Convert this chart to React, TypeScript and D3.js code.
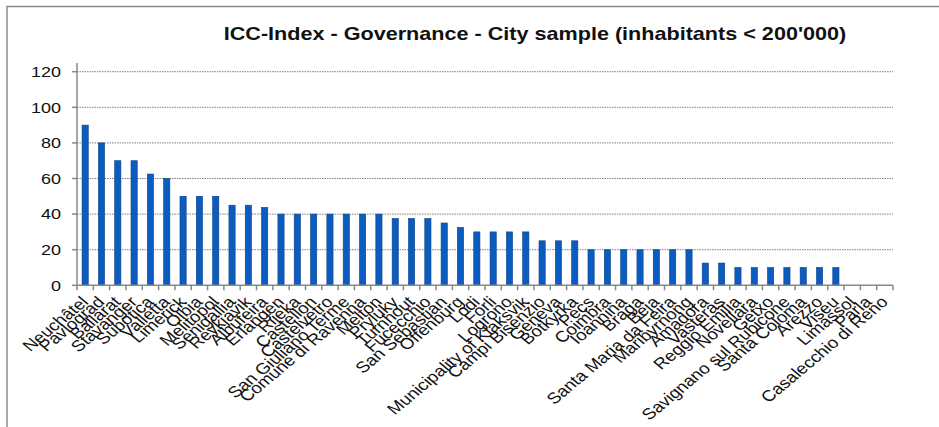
import React, { useEffect, useRef } from 'react';
import * as d3 from 'd3';

const cities = [
  'Neuchâtel', 'Pavlograd', 'Ballarat', 'Stavanger', 'Subotica', 'Valletta', 'Limerick', 'Olbia',
  'Melitopol', 'Senigallia', 'Reykjavik', 'Albufeira', 'Erlangen', 'Rijeka', 'Castellon', 'Castelvetro',
  'San Giuliano Terme', 'Comune di Ravenna', 'Melton', 'Pryluky', 'Turnhout', 'Fucecchio', 'San Sebastian',
  'Offenburg', 'Lodi', 'Forli', 'Logrono', 'Municipality of Klaksvik', 'Campi Bisenzio', 'Geneva',
  'Botkyrka', 'Pecs', 'Coimbra', 'Ioannina', 'Braga', 'Beja', 'Santa Maria da Feira', 'Maribyrnong',
  'Amadora', 'Vasteras', 'Reggio Emilia', 'Novellara', 'Getxo', 'Savignano sul Rubicone', 'Santa Coloma',
  'Arezzo', 'Viseu', 'Limassol', 'Parla', 'Casalecchio di Reno',
];
const scores = [
  90, 80, 70, 70, 62.5, 60, 50, 50, 50, 45, 45, 43.75, 40, 40, 40, 40, 40, 40, 40, 37.5, 37.5, 37.5, 35,
  32.5, 30, 30, 30, 30, 25, 25, 25, 20, 20, 20, 20, 20, 20, 20, 12.5, 12.5, 10, 10, 10, 10, 10, 10, 10,
  0, 0, 0,
];
const yTicks = [0, 20, 40, 60, 80, 100, 120];
const title = "ICC-Index - Governance - City sample (inhabitants < 200'000)";

export default function App() {
  const ref = useRef<SVGSVGElement>(null);

  useEffect(() => {
    const W = 939, H = 427;
    const left = 77, right = 893, top = 71.7, bottom = 285.3;
    const sx = 1.2; // the source picture is stretched sideways

    const svg = d3.select(ref.current);
    svg.selectAll('*').remove();
    svg.attr('width', W).attr('height', H);

    svg.append('rect').attr('width', W).attr('height', H).attr('fill', '#fff');
    // frame, only top and left edges show
    svg.append('path').attr('d', `M7,${H} V6.5 H${W}`)
      .attr('fill', 'none').attr('stroke', '#8a8a8a').attr('stroke-width', 1.5);

    const x = d3.scaleBand<string>().domain(cities).range([left, right]).paddingInner(0.62).paddingOuter(0.31);
    const xb = d3.scaleBand<string>().domain(cities).range([left, right]);
    const y = d3.scaleLinear().domain([0, 120]).range([bottom, top]);

    // title
    svg.append('text')
      .attr('transform', `translate(535,40) scale(${sx},1)`)
      .attr('text-anchor', 'middle')
      .attr('font-family', 'Liberation Sans, Arial, sans-serif')
      .attr('font-weight', 'bold')
      .attr('font-size', 18)
      .attr('fill', '#111')
      .text(title);

    // gridlines
    svg.append('g').selectAll('line')
      .data(yTicks.filter(d => d > 0))
      .enter().append('line')
      .attr('x1', left).attr('x2', right)
      .attr('y1', d => y(d)).attr('y2', d => y(d))
      .attr('stroke', '#808080').attr('stroke-width', 1).attr('stroke-dasharray', '1.5,1');

    // bars
    svg.append('g').selectAll('rect')
      .data(cities.map((c, i) => ({ c, v: scores[i] })))
      .enter().append('rect')
      .attr('x', d => x(d.c)!)
      .attr('y', d => y(d.v))
      .attr('width', x.bandwidth())
      .attr('height', d => bottom - y(d.v))
      .attr('fill', '#0b5cbf')
      .attr('stroke', '#0a3f86').attr('stroke-width', 0.6);

    // y axis
    const ya = svg.append('g');
    ya.append('line').attr('x1', left).attr('x2', left).attr('y1', 63).attr('y2', bottom)
      .attr('stroke', '#888').attr('stroke-width', 1.5);
    ya.selectAll('line.t').data(yTicks).enter().append('line').attr('class', 't')
      .attr('x1', left - 5).attr('x2', left).attr('y1', d => y(d)).attr('y2', d => y(d))
      .attr('stroke', '#888').attr('stroke-width', 1.5);
    ya.selectAll('text').data(yTicks).enter().append('text')
      .attr('transform', d => `translate(61,${y(d) + 5.3}) scale(${sx},1)`)
      .attr('text-anchor', 'end')
      .attr('font-family', 'Liberation Sans, Arial, sans-serif')
      .attr('font-size', 15)
      .attr('fill', '#111')
      .text(d => d);

    // x axis
    const xa = svg.append('g');
    xa.append('line').attr('x1', left).attr('x2', right).attr('y1', bottom).attr('y2', bottom)
      .attr('stroke', '#888').attr('stroke-width', 1.5);
    xa.selectAll('line.t').data([...cities.map(c => xb(c)!), right]).enter().append('line').attr('class', 't')
      .attr('x1', d => d).attr('x2', d => d).attr('y1', bottom).attr('y2', bottom + 5)
      .attr('stroke', '#888').attr('stroke-width', 1.5);
    xa.selectAll('text').data(cities).enter().append('text')
      .attr('transform', d => `translate(${xb(d)! + xb.bandwidth() / 2 - 5},${bottom + 10}) scale(${sx},1) rotate(-45)`)
      .attr('text-anchor', 'end')
      .attr('dy', '0.7em')
      .attr('font-family', 'Liberation Sans, Arial, sans-serif')
      .attr('font-size', 15.5)
      .attr('fill', '#111')
      .text(d => d);
  }, []);

  return <svg ref={ref} style={{ position: 'absolute', left: 0, top: 0, display: 'block' }} />;
}
